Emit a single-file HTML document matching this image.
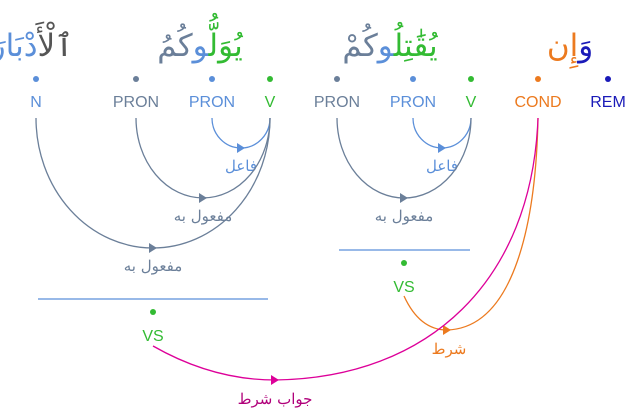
<!DOCTYPE html>
<html><head><meta charset="utf-8"><style>
html,body{margin:0;padding:0;background:#fff;}
svg{display:block;}
.pos{font-family:"Liberation Sans",sans-serif;font-size:16px;}
.ar{font-family:"DejaVu Sans","Noto Sans CJK SC",sans-serif;}
.lbl{font-family:"DejaVu Serif","Liberation Serif",serif;font-size:15px;}
</style></head><body>
<svg id="g" width="628" height="410" viewBox="0 0 628 410">
<g>
<text class="ar" x="32" y="56" font-size="31" text-anchor="middle" direction="rtl"><tspan fill="#555">ٱلْ</tspan><tspan fill="#5b8fd9">أَدْبَارَ</tspan></text>
<text class="ar" x="200" y="56" font-size="31" text-anchor="middle" direction="rtl"><tspan fill="#33bb33">يُوَلُّ</tspan><tspan fill="#5b8fd9">و</tspan><tspan fill="#6b7f99">كُمُ</tspan></text>
<text class="ar" x="390" y="56" font-size="31" text-anchor="middle" direction="rtl"><tspan fill="#33bb33">يُقَٰتِلُ</tspan><tspan fill="#5b8fd9">و</tspan><tspan fill="#6b7f99">كُمْ</tspan></text>
<text class="ar" x="570" y="56" font-size="31" text-anchor="middle" direction="rtl"><tspan fill="#1a1ab8">وَ</tspan><tspan fill="#ec7a1f">إِن</tspan></text>
</g>
<g id="nodes"></g>
<g id="edges"></g>
</svg>
<script>
const posTags = ["N","PRON","PRON","V","PRON","PRON","V","COND","REM"];
const posX = [36,136,212,270,337,413,471,538,608];
const posColors = ["#5b8fd9","#6b7f99","#5b8fd9","#33bb33","#6b7f99","#5b8fd9","#33bb33","#ec7a1f","#1a1ab8"];
const edgeFrom = [3,3,3,6,6];
const edgeTo = [2,1,0,5,4];
const edgeDepth = [30,80,130,30,80];
const edgeLabels = ["فاعل","مفعول به","مفعول به","فاعل","مفعول به"];
const edgeColors = ["#5b8fd9","#6b7f99","#6b7f99","#5b8fd9","#6b7f99"];
const NS="http://www.w3.org/2000/svg";
const nodes=document.getElementById('nodes'), edges=document.getElementById('edges');
function mk(tag,attrs,parent){const e=document.createElementNS(NS,tag);for(const k in attrs)e.setAttribute(k,attrs[k]);parent.appendChild(e);return e;}
posTags.forEach((t,i)=>{
  const c=mk('circle',{cx:posX[i],cy:79,r:3,fill:posColors[i]},nodes);
  
  
  const tx=mk('text',{x:posX[i],y:107,'text-anchor':'middle',fill:posColors[i],'class':'pos'},nodes);
  tx.textContent=t;
  
  
});
const y0=118;
function arrow(x,y,col,parent){const a=mk('path',{d:`M${x-4},${y-5} L${x+4},${y} L${x-4},${y+5}Z`,fill:col},parent);}
edgeFrom.forEach((f,i)=>{
  const x1=posX[edgeTo[i]], x2=posX[f], rx=(x2-x1)/2, yb=y0+edgeDepth[i];
  const p=mk('path',{d:`M${x1},${y0} A${rx},${edgeDepth[i]} 0 0 0 ${x2},${y0}`,fill:'none',stroke:edgeColors[i],'stroke-width':1.3},edges);
  
  
  const mx=(x1+x2)/2;
  arrow(mx,yb,edgeColors[i],edges);
  const l=mk('text',{x:mx,y:yb+23,'text-anchor':'middle',fill:edgeColors[i],'class':'lbl'},edges);
  l.textContent=edgeLabels[i];
  
  
});
const vsX=[153,404], vsLineY=[299,250], vsX1=[38,339], vsX2=[268,470];
vsX.forEach((x,i)=>{
  const ln=mk('line',{x1:vsX1[i],x2:vsX2[i],y1:vsLineY[i],y2:vsLineY[i],stroke:'#5b8fd9','stroke-width':1.3},edges);
  
  
  const d=mk('circle',{cx:x,cy:vsLineY[i]+13,r:3,fill:'#33bb33'},edges);
  
  
  const t=mk('text',{x:x,y:vsLineY[i]+42,'text-anchor':'middle',fill:'#33bb33','class':'pos'},edges);
  t.textContent='VS';
  
  
});
const o=mk('path',{d:'M404,296 C415,320 430,330 447,330 C515,328 536,220 538,118',fill:'none',stroke:'#ec7a1f','stroke-width':1.3},edges);


arrow(447,330,'#ec7a1f',edges);
const ol=mk('text',{x:449,y:354,'text-anchor':'middle',fill:'#ec7a1f','class':'lbl'},edges);
ol.textContent='شرط';


const m=mk('path',{d:'M153,346 C195,370 235,380 275,380 C430,378 532,280 538,118',fill:'none',stroke:'#dd0099','stroke-width':1.3},edges);


arrow(275,380,'#dd0099',edges);
const ml=mk('text',{x:275,y:404,'text-anchor':'middle',fill:'#b0007a','class':'lbl'},edges);
ml.textContent='جواب شرط';


</script>
</body></html>
